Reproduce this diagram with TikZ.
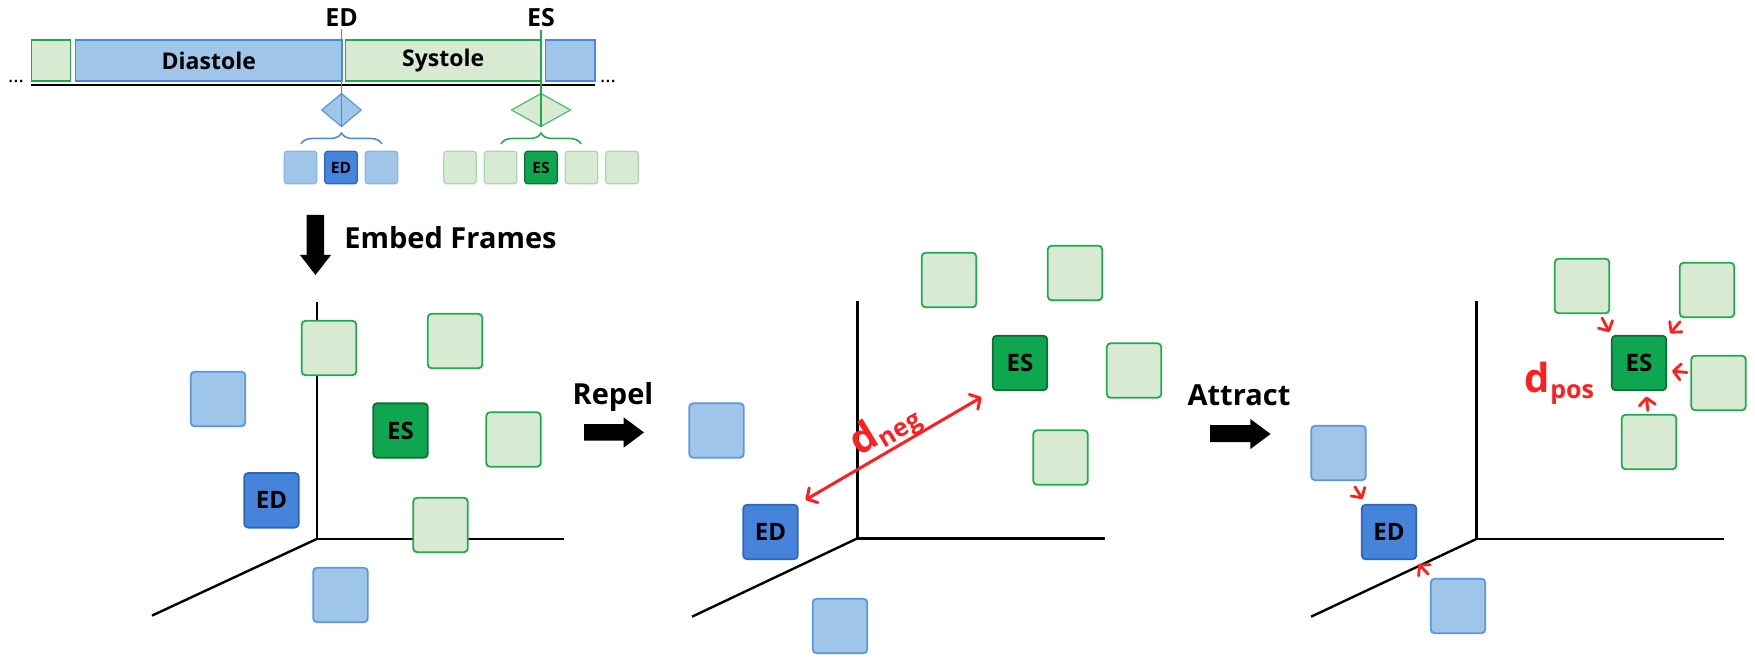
\documentclass[tikz,border=0pt]{standalone}
\usepackage{fontspec}
\setmainfont{Open Sans}
\usetikzlibrary{arrows.meta,decorations.pathreplacing,shapes.geometric,calc}
\definecolor{lbfill}{HTML}{9FC5E8}
\definecolor{lbdraw}{HTML}{5A96E3}
\definecolor{dbfill}{HTML}{4683DB}
\definecolor{dbdraw}{HTML}{2F65BE}
\definecolor{lgfill}{HTML}{D9EAD3}
\definecolor{lgdraw}{HTML}{1EAA4F}
\definecolor{dgfill}{HTML}{0EA64E}
\definecolor{dgdraw}{HTML}{0C6E35}
\definecolor{edline}{HTML}{4A86E8}
\definecolor{esline}{HTML}{22A84C}
\definecolor{lbsoft}{HTML}{86B5EC}
\definecolor{lgsoft}{HTML}{A6D9B0}
\definecolor{arrred}{HTML}{FF1F1F}
\newcommand{\dbigfont}{\bfseries\fontsize{20}{20}\selectfont}
\newcommand{\dsubfont}{\bfseries\fontsize{12.5}{13}\selectfont}
\begin{document}
\begin{tikzpicture}[x=0.5pt,y=-0.5pt,
  box/.style={rectangle, rounded corners=2pt, line width=0.9pt, minimum width=27.3pt, minimum height=27.3pt, inner sep=0pt, font=\bfseries\fontsize{12}{14}\selectfont},
  lbbox/.style={box, fill=lbfill, draw=lbdraw},
  dbbox/.style={box, fill=dbfill, draw=dbdraw},
  lgbox/.style={box, fill=lgfill, draw=lgdraw},
  dgbox/.style={box, fill=dgfill, draw=dgdraw},
  sbox/.style={rectangle, rounded corners=1.5pt, line width=0.6pt, minimum width=16.3pt, minimum height=16.3pt, inner sep=0pt, font=\bfseries\fontsize{7.8}{8}\selectfont},
  slb/.style={sbox, fill=lbfill, draw=lbsoft},
  sdb/.style={sbox, fill=dbfill, draw=dbdraw},
  slg/.style={sbox, fill=lgfill, draw=lgsoft},
  sdg/.style={sbox, fill=dgfill, draw=dgdraw},
  bar/.style={rectangle, line width=0.7pt, minimum height=20.5pt, inner sep=0pt, font=\bfseries\fontsize{11.5}{13}\selectfont},
  bluebar/.style={bar, fill=lbfill, draw=edline},
  greenbar/.style={bar, fill=lgfill, draw=esline},
  title/.style={font=\bfseries\fontsize{14.5}{16}\selectfont, inner sep=0pt},
  toplab/.style={font=\bfseries\fontsize{12.5}{14}\selectfont, inner sep=1pt},
  axis/.style={line width=1.2pt, black},
  bigarrow/.style={fill=black},
  redarr/.style={draw=arrred, line width=1.4pt, line cap=round, -{Straight Barb[length=3.6pt,width=8pt,line cap=round,line join=round]}},
  redlab/.style={text=arrred, inner sep=0pt},
  markline/.style={line width=0.75pt},
  bracestyle/.style={decorate, decoration={brace, amplitude=5.5pt}, line width=0.75pt}
]
\useasboundingbox (0,0) rectangle (1755,662);

% ---------- timeline ----------
\node[greenbar, minimum width=19.6pt] (gbar0) at (51,60.5) {};
\node[bluebar, minimum width=133.2pt] (dia) at (208.8,60.5) {Diastole};
\node[greenbar, minimum width=97.5pt] (sys) at (443.2,60.5) {Systole};
\node[bluebar, minimum width=24.6pt] (bbar1) at (570.3,60.5) {};
\draw[line width=1.35pt] (31,85) -- (595,85);
\node[font=\fontsize{10}{10}\selectfont, inner sep=0pt] (dotsl) at (16,81) {...};
\node[font=\fontsize{10}{10}\selectfont, inner sep=0pt] (dotsr) at (608,81) {...};

\node[toplab, anchor=base] (edlab) at (341.5,27) {ED};
\node[toplab, anchor=base] (eslab) at (541,27) {ES};
\node[diamond, fill=lbfill, draw=lbdraw, line width=0.6pt, minimum width=20pt, minimum height=16.7pt, inner sep=0pt] (edd) at (341.5,110) {};
\node[diamond, fill=lgfill, draw=esline!80, line width=0.6pt, minimum width=29.7pt, minimum height=16.7pt, inner sep=0pt] (esd) at (541,110) {};
\draw[edline, markline] (edlab.south) -- (edd.south);
\draw[esline, markline] (eslab.south) -- (esd.south);

\draw[edline, bracestyle] (301,144) -- (382,144);
\draw[esline, bracestyle] (501,144) -- (581,144);

\node[slb] (f1) at (300.5,167.5) {};
\node[sdb] (f2) at (341,167.5) {ED};
\node[slb] (f3) at (381.5,167.5) {};
\node[slg] (h1) at (460,167.5) {};
\node[slg] (h2) at (500.5,167.5) {};
\node[sdg] (h3) at (541,167.5) {ES};
\node[slg] (h4) at (581.5,167.5) {};
\node[slg] (h5) at (622,167.5) {};

% ---------- embed frames ----------
\fill[bigarrow] (306.7,215) -- (324,215) -- (324,255) -- (331,255) -- (315.5,275) -- (300,255) -- (306.7,255) -- cycle;
\node[title, anchor=base west] (embed) at (344,249) {Embed Frames};

% ---------- panel 1 ----------
\coordinate (o1) at (316.7,539);
\draw[axis] (316.7,301.7) -- (o1) -- (564,539);
\draw[axis] (o1) -- (152,615.6);
\node[lgbox] (g1a) at (329,348) {};
\node[lgbox] (g1b) at (455,341) {};
\node[dgbox] (es1) at (400.5,430.5) {ES};
\node[lgbox] (g1c) at (513.5,439.5) {};
\node[lgbox] (g1d) at (440.5,525) {};
\node[lbbox] (b1a) at (218,399) {};
\node[dbbox] (ed1) at (271.5,500.3) {ED};
\node[lbbox] (b1b) at (340.5,595) {};

% ---------- repel ----------
\node[title, anchor=base] (repel) at (613,405) {Repel};
\fill[bigarrow] (584,424) -- (623.6,424) -- (623.6,417.3) -- (644,432.5) -- (623.6,447.7) -- (623.6,440.7) -- (584,440.7) -- cycle;

% ---------- panel 2 ----------
\coordinate (o2) at (857.5,538.3);
\draw[axis] (857.5,301) -- (o2) -- (1105.4,538.3);
\draw[axis] (o2) -- (692,616.7);
\node[lgbox] (g2a) at (949,280) {};
\node[lgbox] (g2b) at (1075,273) {};
\node[dgbox] (es2) at (1020,363) {ES};
\node[lgbox] (g2c) at (1134,370.5) {};
\node[lgbox] (g2d) at (1060.5,457.5) {};
\node[lbbox] (b2a) at (716.5,430.5) {};
\node[dbbox] (ed2) at (770.5,532) {ED};
\node[lbbox] (b2b) at (840,626) {};
\draw[draw=arrred, line width=1.5pt, line cap=round, shorten <=4pt, shorten >=6pt,
  {Straight Barb[length=3.8pt,width=8.5pt,line cap=round,line join=round]}-{Straight Barb[length=3.8pt,width=8.5pt,line cap=round,line join=round]}]
  (ed2.north east) -- (es2.south west);
\node[redlab, rotate=31] (dneg) at (885,430) {{\dbigfont d}\kern0.3pt\raisebox{-3pt}{\dsubfont neg}};

% ---------- attract ----------
\node[title, anchor=base] (attract) at (1239,406) {Attract};
\fill[bigarrow] (1210,425) -- (1250.4,425) -- (1250.4,419) -- (1270.6,434) -- (1250.4,449) -- (1250.4,442) -- (1210,442) -- cycle;

% ---------- panel 3 ----------
\coordinate (o3) at (1476.3,539);
\draw[axis] (1476.3,301) -- (o3) -- (1723.5,539);
\draw[axis] (o3) -- (1311,616.7);
\node[lgbox] (g3a) at (1582,286) {};
\node[lgbox] (g3b) at (1707,290) {};
\node[dgbox] (es3) at (1639,363) {ES};
\node[lgbox] (g3c) at (1718.5,383) {};
\node[lgbox] (g3d) at (1649,442) {};
\node[lbbox] (b3a) at (1338.5,453) {};
\node[dbbox] (ed3) at (1389,532) {ED};
\node[lbbox] (b3b) at (1458,606) {};
\node[redlab, anchor=base west] (dpos) at (1524,393) {{\dbigfont d}\kern0.3pt\raisebox{-3pt}{\dsubfont pos}};

\coordinate (a1s) at (1602,318);
\coordinate (a1e) at (1609.5,332);
\coordinate (a2s) at (1680,321.7);
\coordinate (a2e) at (1670.3,333.3);
\coordinate (a3s) at (1687,372.5);
\coordinate (a3e) at (1672,371);
\coordinate (a4s) at (1647.8,410.5);
\coordinate (a4e) at (1646.5,396.5);
\coordinate (a5s) at (1355,487);
\coordinate (a5e) at (1362.5,499);
\coordinate (a6s) at (1428,574);
\coordinate (a6e) at (1418.5,564);
\draw[redarr] (a1s) -- (a1e);
\draw[redarr] (a2s) -- (a2e);
\draw[redarr] (a3s) -- (a3e);
\draw[redarr] (a4s) -- (a4e);
\draw[redarr] (a5s) -- (a5e);
\draw[redarr] (a6s) -- (a6e);
\end{tikzpicture}
\end{document}
